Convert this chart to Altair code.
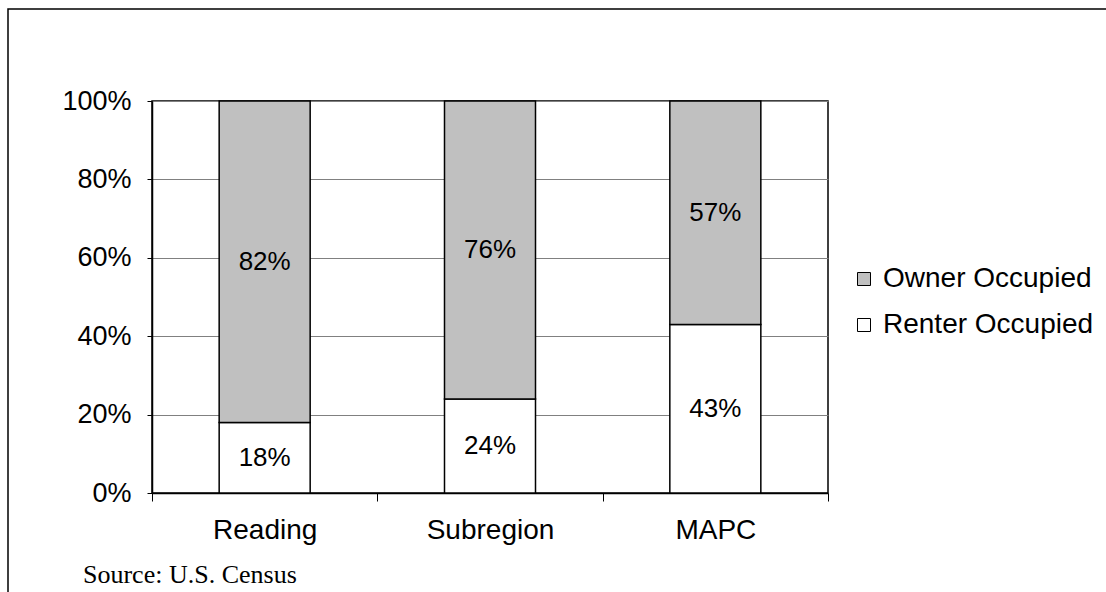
import altair as alt
import pandas as pd

regions = ["Reading", "Subregion", "MAPC"]
owner_pct = [82, 76, 57]
renter_pct = [18, 24, 43]
series = ["Owner Occupied", "Renter Occupied"]
series_colors = ["#C0C0C0", "#FFFFFF"]
y_ticks = [0, 20, 40, 60, 80, 100]
source_note = "Source: U.S. Census"

rows = []
for i, r in enumerate(regions):
    rows.append({"region": r, "tenure": "Renter Occupied", "pct": renter_pct[i], "rank": 0})
    rows.append({"region": r, "tenure": "Owner Occupied", "pct": owner_pct[i], "rank": 1})
df = pd.DataFrame(rows)

W, H = 676, 392
FONT = "Liberation Sans"

x_enc = alt.X(
    "region:N",
    sort=regions,
    title=None,
    scale=alt.Scale(paddingInner=0, paddingOuter=0),
    axis=alt.Axis(
        labelAngle=0, labelFontSize=28, labelFont=FONT, labelColor="black",
        tickBand="extent", tickSize=8, tickColor="black", domainColor="black",
        domainWidth=1.5, labelPadding=15, grid=False,
    ),
)

bars = alt.Chart(df).mark_bar(size=91, stroke="black", strokeWidth=1.5).encode(
    x=x_enc,
    y=alt.Y(
        "pct:Q", stack="zero", title=None,
        scale=alt.Scale(domain=[0, 100], nice=False),
        axis=alt.Axis(
            values=y_ticks, labelExpr="datum.value + '%'", labelFontSize=27,
            labelFont=FONT, labelColor="black", tickSize=5, tickColor="black",
            domainColor="black", domainWidth=1.5, labelPadding=16,
            gridColor="#808080", gridWidth=1.2,
        ),
    ),
    color=alt.Color(
        "tenure:N", title=None,
        scale=alt.Scale(domain=series, range=series_colors),
        legend=alt.Legend(
            orient="none", legendX=698, legendY=164, symbolType="square",
            symbolSize=169, symbolStrokeColor="black", symbolStrokeWidth=1,
            labelFontSize=28, labelFont=FONT, labelColor="black", labelLimit=0,
            rowPadding=18, labelOffset=5,
        ),
    ),
    order=alt.Order("rank:Q"),
)

labels = alt.Chart(df).transform_stack(
    stack="pct", groupby=["region"], as_=["y0", "y1"],
    sort=[alt.SortField("rank")],
).transform_calculate(
    mid="(datum.y0 + datum.y1) / 2",
    lab="datum.pct + '%'",
).mark_text(fontSize=26, font=FONT, color="black").encode(
    x=alt.X("region:N", sort=regions),
    y=alt.Y("mid:Q"),
    text="lab:N",
)

# outer frame: only its top and left edges fall inside the canvas
frame = alt.Chart(pd.DataFrame({"k": [0]})).mark_rect(
    fill=None, stroke="black", strokeWidth=1.5, clip=False
).encode(
    x=alt.value(-144), x2=alt.value(975), y=alt.value(-92), y2=alt.value(512)
)

note = alt.Chart(pd.DataFrame({"t": [source_note]})).mark_text(
    align="left", baseline="alphabetic", font="Liberation Serif",
    fontSize=26, color="black", clip=False,
).encode(x=alt.value(-69), y=alt.value(482), text="t:N")

chart = alt.layer(bars, labels, frame, note).properties(
    width=W, height=H,
    padding={"left": 152, "top": 101, "right": 278, "bottom": 99},
    autosize=alt.AutoSizeParams(type="none"),
    background="white",
).configure_view(stroke="black", strokeWidth=1.5)

chart.save("out.html", embed_options={"renderer": "svg", "actions": False})
